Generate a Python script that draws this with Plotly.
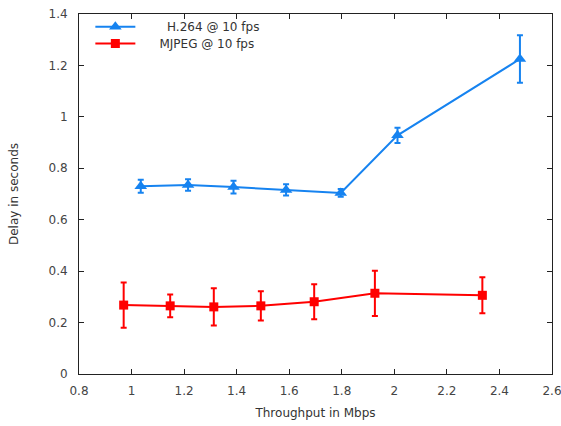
import plotly.graph_objects as go

# Throughput (Mbps) vs. delay (s) with standard-deviation error bars
h264_x = [1.035, 1.215, 1.388, 1.588, 1.796, 2.012, 2.478]
h264_y = [0.730, 0.735, 0.727, 0.716, 0.704, 0.928, 1.225]
h264_err = [0.025, 0.022, 0.025, 0.022, 0.015, 0.030, 0.092]

mjpeg_x = [0.970, 1.147, 1.313, 1.492, 1.695, 1.926, 2.335]
mjpeg_y = [0.268, 0.265, 0.261, 0.265, 0.281, 0.314, 0.306]
mjpeg_err = [0.088, 0.044, 0.072, 0.057, 0.068, 0.088, 0.070]

x_ticks = [0.8, 1, 1.2, 1.4, 1.6, 1.8, 2, 2.2, 2.4, 2.6]
y_ticks = [0, 0.2, 0.4, 0.6, 0.8, 1, 1.2, 1.4]

BLUE = "#1683f0"
RED = "#ff0000"
FONT = "DejaVu Sans"
NB = "\u00a0"

fig = go.Figure()
fig.add_trace(go.Scatter(
    x=h264_x, y=h264_y, mode="lines+markers",
    name=NB * 7 + "H.264 @ 10 fps", legend="legend",
    line=dict(color=BLUE, width=2),
    marker=dict(symbol="triangle-up", size=11, color=BLUE),
    error_y=dict(type="data", array=h264_err, color=BLUE, thickness=2, width=3),
))
fig.add_trace(go.Scatter(
    x=mjpeg_x, y=mjpeg_y, mode="lines+markers",
    name=NB * 5 + "MJPEG @ 10 fps", legend="legend2",
    line=dict(color=RED, width=2),
    marker=dict(symbol="square", size=9, color=RED),
    error_y=dict(type="data", array=mjpeg_err, color=RED, thickness=2, width=3),
))

axis_common = dict(
    showgrid=False, zeroline=False, showline=True, linecolor="#222",
    linewidth=1, mirror="ticks", ticks="inside", ticklen=5, tickcolor="#222",
    tickfont=dict(family=FONT, size=12, color="#444"), automargin=False,
)

legend_common = dict(
    x=0.024, xanchor="left", yanchor="top",
    bgcolor="rgba(0,0,0,0)", borderwidth=0,
    font=dict(family=FONT, size=12, color="#333"), itemwidth=40,
)

fig.update_layout(
    width=561, height=426,
    margin=dict(l=79, r=9, t=14, b=52, autoexpand=False),
    paper_bgcolor="white", plot_bgcolor="white",
    font=dict(family=FONT, size=12, color="#333"),
    xaxis=dict(range=[0.8, 2.6], tickvals=x_ticks,
               ticktext=[f"{v:g}" for v in x_ticks],
               ticklabelstandoff=6, ticklabeloverflow="allow",
               title=dict(text="Throughput in Mbps", standoff=11,
                          font=dict(family=FONT, size=12, color="#333")),
               **axis_common),
    yaxis=dict(range=[0, 1.4], tickvals=y_ticks,
               ticktext=[f"{v:g}" for v in y_ticks],
               ticklabelstandoff=8,
               title=dict(text="Delay in seconds", standoff=27,
                          font=dict(family=FONT, size=12, color="#333")),
               **axis_common),
    legend=dict(y=1.005, **legend_common),
    legend2=dict(y=0.958, **legend_common),
    showlegend=True,
)

fig.write_html("out.html")
